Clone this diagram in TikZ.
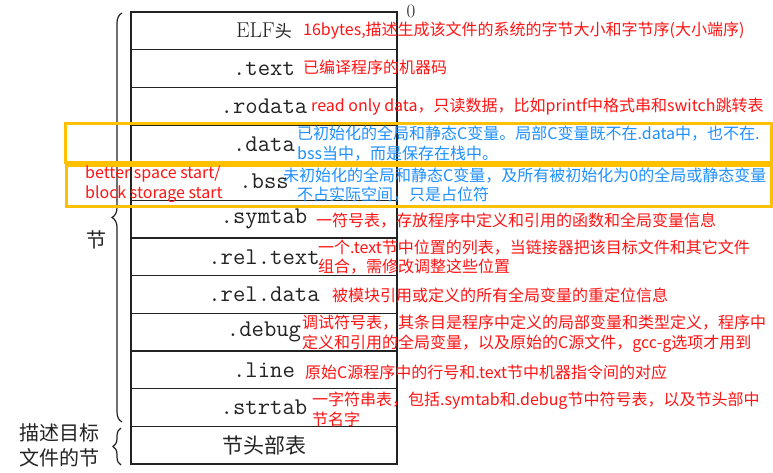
\documentclass[tikz,border=0pt]{standalone}
\usepackage{fontspec}
\newfontfamily\cjk{Noto Sans CJK SC}
\usetikzlibrary{decorations.pathreplacing}
\definecolor{annred}{RGB}{255,20,20}
\definecolor{annblue}{RGB}{30,144,255}
\definecolor{boxorange}{RGB}{255,192,0}
\definecolor{ink}{RGB}{35,35,35}
\begin{document}
\begin{tikzpicture}[x=1pt,y=-1pt,
  cell/.style={draw=ink, line width=1.3pt, minimum width=266pt, minimum height=37.67pt, inner sep=0pt, text=ink, font=\fontsize{24}{25}\selectfont\ttfamily},
  ann/.style={anchor=west, inner sep=0pt, text=annred, font=\fontsize{16}{19.5}\selectfont\cjk, align=left},
  annb/.style={ann, text=annblue},
  orangebox/.style={draw=boxorange, line width=3pt},
  bracestyle/.style={draw=ink, line width=1.2pt, decorate, decoration={brace, amplitude=#1}},
  side/.style={text=ink, font=\fontsize{20}{25}\selectfont\cjk, inner sep=0pt, align=center}]
\useasboundingbox (0,0) rectangle (773,472);
\fill[white] (0,0) rectangle (773,472);
% table
\node[cell] (elf) at (264,30.83) {\fontsize{21.5}{22}\selectfont\rmfamily ELF\fontsize{17}{18}\selectfont\cjk 头};
\node[cell] (text) at (264,68.5) {.text};
\node[cell] (rodata) at (264,106.17) {.rodata};
\node[cell] (data) at (264,143.83) {.data};
\node[cell] (bss) at (264,181.5) {.bss};
\node[cell] (symtab) at (264,219.17) {.symtab};
\node[cell] (reltext) at (264,256.83) {.rel.text};
\node[cell] (reldata) at (264,294.5) {.rel.data};
\node[cell] (debug) at (264,332.17) {.debug};
\node[cell] (line) at (264,369.83) {.line};
\node[cell] (strtab) at (264,407.5) {.strtab};
\node[cell] (shdr) at (264,445.17) {\fontsize{21}{22}\selectfont\cjk 节头部表};
\node[text=ink, font=\fontsize{19}{19}\selectfont, inner sep=0pt] (zero) at (411,11) {0};
% braces
\coordinate (bt) at (122,13);
\coordinate (bb) at (122,422);
\draw[bracestyle=10pt] (bb) -- (bt);
\coordinate (st) at (121,428);
\coordinate (sb) at (121,465);
\draw[bracestyle=8pt] (sb) -- (st);
\node[side] (jie) at (96,240) {节};
\node[side] (desc) at (59,445) {描述目标\\文件的节};
% orange boxes
\draw[orangebox] (65,123) rectangle (771,162);
\draw[orangebox] (66,165) rectangle (771,206);
% annotations
\node[ann] (a1) at (303,31) {16bytes,描述生成该文件的系统的字节大小和字节序(大小端序)};
\node[ann] (a2) at (303,67) {已编译程序的机器码};
\node[ann] (a3) at (311,107) {read only data，只读数据，比如printf中格式串和switch跳转表};
\node[annb] (a4) at (297,143.5) {已初始化的全局和静态C变量。局部C变量既不在.data中，也不在.\\bss当中，而是保存在栈中。};
\node[annb] (a5) at (283,185) {未初始化的全局和静态C变量，及所有被初始化为0的全局或静态变量\\\hspace*{14pt}不占实际空间，只是占位符};
\node[ann] (a6) at (85,184) {better space start/\\block storage start};
\node[ann] (a7) at (316,221) {一符号表，存放程序中定义和引用的函数和全局变量信息};
\node[ann] (a8) at (318,257) {一个.text节中位置的列表，当链接器把该目标文件和其它文件\\组合，需修改调整这些位置};
\node[ann] (a9) at (332,295) {被模块引用或定义的所有全局变量的重定位信息};
\node[ann] (a10) at (302,333.5) {调试符号表，其条目是程序中定义的局部变量和类型定义，程序中\\定义和引用的全局变量，以及原始的C源文件，gcc-g选项才用到};
\node[ann] (a11) at (305,372) {原始C源程序中的行号和.text节中机器指令间的对应};
\node[ann] (a12) at (312,409.5) {一字符串表，包括.symtab和.debug节中符号表，以及节头部中\\节名字};
\end{tikzpicture}
\end{document}
